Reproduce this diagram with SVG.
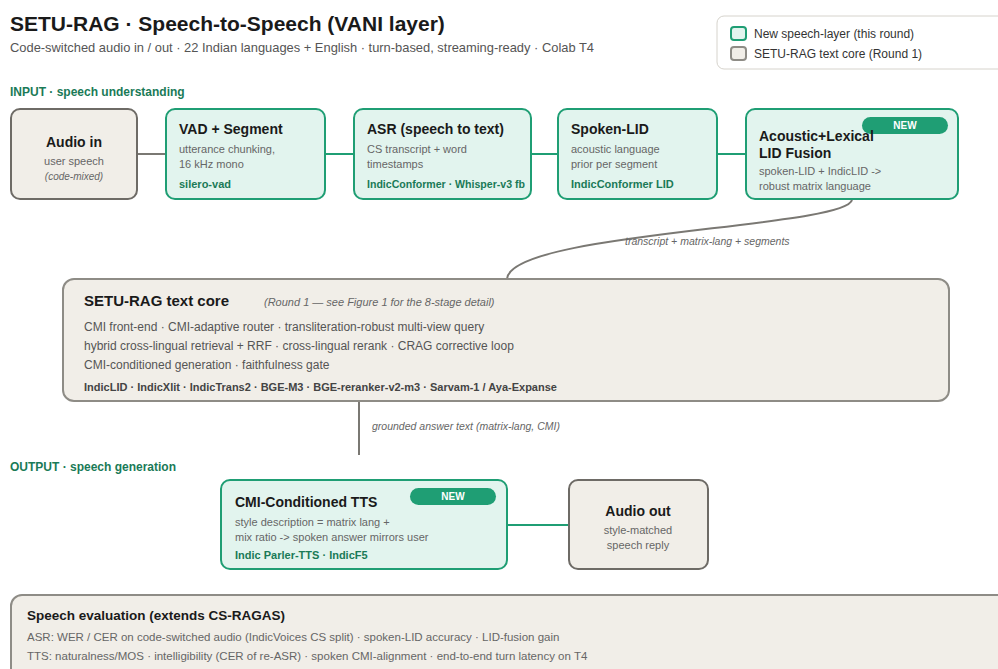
<svg xmlns="http://www.w3.org/2000/svg" width="998" height="669" viewBox="0 0 998 669">
<defs>
<style>
text{font-family:"Liberation Sans",Arial,sans-serif;}
.title{font-size:21px;font-weight:bold;fill:#1a1a1a;}
.sub{font-size:13px;fill:#555;}
.sec{font-size:12px;font-weight:bold;fill:#1a7a57;}
.new{fill:#e2f4ee;stroke:#1f9e74;stroke-width:2;}
.core{fill:#f1eee8;stroke:#6e6b66;stroke-width:2;}
.core2{fill:#f1eee8;stroke:#8e8c86;stroke-width:2;}
.nt{font-size:14px;font-weight:bold;fill:#1a1a1a;}
.d{font-size:11px;fill:#666;}
.m{font-size:11px;font-weight:bold;fill:#1a7a57;}
.pill{fill:#1f9e74;}
.pt{font-size:10px;font-weight:bold;fill:#fff;}
.lbl{font-size:10.5px;font-style:italic;fill:#666;}
.cd{font-size:12px;fill:#555;}
.cm{font-size:11px;font-weight:bold;fill:#444;}
.ed{font-size:11.5px;fill:#666;}
.eg{stroke:#1f9e74;stroke-width:2;fill:none;}
.eq{stroke:#7a7873;stroke-width:2;fill:none;}
</style>
</defs>
<rect width="998" height="669" fill="#fff"/>
<text class="title" x="10" y="31">SETU-RAG · Speech-to-Speech (VANI layer)</text>
<text class="sub" x="10" y="52" textLength="584" lengthAdjust="spacingAndGlyphs">Code-switched audio in / out · 22 Indian languages + English · turn-based, streaming-ready · Colab T4</text>

<g id="legend">
<rect x="717" y="16" width="300" height="53" rx="7" fill="#fff" stroke="#d6d3cc" stroke-width="1"/>
<rect x="731" y="27" width="15" height="13" rx="3" class="new"/>
<text x="754" y="38" font-size="12" fill="#333">New speech-layer (this round)</text>
<rect x="731" y="47" width="15" height="13" rx="3" class="core2"/>
<text x="754" y="58" font-size="12" fill="#333">SETU-RAG text core (Round 1)</text>
</g>

<text class="sec" x="10" y="96">INPUT · speech understanding</text>

<g id="connectors">
<line x1="137" y1="154" x2="166" y2="154" class="eq"/>
<line x1="325" y1="154" x2="354" y2="154" class="eg"/>
<line x1="531" y1="154" x2="558" y2="154" class="eg"/>
<line x1="717" y1="154" x2="746" y2="154" class="eg"/>
<path d="M852 200 C845 228, 510 232, 507 279" class="eq"/>
<text class="lbl" x="625" y="245">transcript + matrix-lang + segments</text>
<line x1="359" y1="401" x2="359" y2="455" class="eq"/>
<text class="lbl" x="372" y="430">grounded answer text (matrix-lang, CMI)</text>
<line x1="507" y1="525" x2="569" y2="525" class="eg"/>
</g>

<g id="audio-in">
<rect x="11" y="109" width="126" height="90" rx="9" class="core"/>
<text class="nt" x="74" y="147" text-anchor="middle">Audio in</text>
<text class="d" x="74" y="165" text-anchor="middle">user speech</text>
<text x="74" y="180" text-anchor="middle" font-size="10" font-style="italic" fill="#666">(code-mixed)</text>
</g>

<g id="vad">
<rect x="166" y="109" width="159" height="90" rx="9" class="new"/>
<text class="nt" x="179" y="134">VAD + Segment</text>
<text class="d" x="179" y="153">utterance chunking,</text>
<text class="d" x="179" y="168">16 kHz mono</text>
<text class="m" x="179" y="188">silero-vad</text>
</g>

<g id="asr">
<rect x="354" y="109" width="177" height="90" rx="9" class="new"/>
<text class="nt" x="367" y="134">ASR (speech to text)</text>
<text class="d" x="367" y="153">CS transcript + word</text>
<text class="d" x="367" y="168">timestamps</text>
<text class="m" x="367" y="188" textLength="158" lengthAdjust="spacingAndGlyphs">IndicConformer · Whisper-v3 fb</text>
</g>

<g id="spoken-lid">
<rect x="558" y="109" width="159" height="90" rx="9" class="new"/>
<text class="nt" x="571" y="134">Spoken-LID</text>
<text class="d" x="571" y="153">acoustic language</text>
<text class="d" x="571" y="168">prior per segment</text>
<text class="m" x="571" y="188">IndicConformer LID</text>
</g>

<g id="lid-fusion">
<rect x="746" y="109" width="212" height="90" rx="9" class="new"/>
<rect x="862" y="117" width="86" height="17" rx="8.5" class="pill"/>
<text class="pt" x="905" y="129" text-anchor="middle">NEW</text>
<text class="nt" x="759" y="141">Acoustic+Lexical</text>
<text class="nt" x="759" y="158">LID Fusion</text>
<text class="d" x="759" y="175">spoken-LID + IndicLID -&gt;</text>
<text class="d" x="759" y="190">robust matrix language</text>
</g>

<g id="text-core">
<rect x="63" y="279" width="886" height="122" rx="11" class="core2"/>
<text x="84" y="306" font-size="15" font-weight="bold" fill="#1a1a1a">SETU-RAG text core</text>
<text x="264" y="306" font-size="11" font-style="italic" fill="#666">(Round 1 — see Figure 1 for the 8-stage detail)</text>
<text class="cd" x="84" y="331">CMI front-end · CMI-adaptive router · transliteration-robust multi-view query</text>
<text class="cd" x="84" y="350">hybrid cross-lingual retrieval + RRF · cross-lingual rerank · CRAG corrective loop</text>
<text class="cd" x="84" y="369">CMI-conditioned generation · faithfulness gate</text>
<text class="cm" x="84" y="391">IndicLID · IndicXlit · IndicTrans2 · BGE-M3 · BGE-reranker-v2-m3 · Sarvam-1 / Aya-Expanse</text>
</g>

<text class="sec" x="10" y="471">OUTPUT · speech generation</text>

<g id="tts">
<rect x="221" y="480" width="286" height="89" rx="9" class="new"/>
<rect x="410" y="488" width="86" height="17" rx="8.5" class="pill"/>
<text class="pt" x="453" y="500" text-anchor="middle">NEW</text>
<text class="nt" x="235" y="507">CMI-Conditioned TTS</text>
<text class="d" x="235" y="526">style description = matrix lang +</text>
<text class="d" x="235" y="541">mix ratio -&gt; spoken answer mirrors user</text>
<text class="m" x="235" y="559">Indic Parler-TTS · IndicF5</text>
</g>

<g id="audio-out">
<rect x="569" y="480" width="139" height="89" rx="9" class="core"/>
<text class="nt" x="638" y="516" text-anchor="middle">Audio out</text>
<text class="d" x="638" y="534" text-anchor="middle">style-matched</text>
<text class="d" x="638" y="549" text-anchor="middle">speech reply</text>
</g>

<g id="speech-eval">
<rect x="11" y="595" width="1000" height="90" rx="11" class="core2"/>
<text x="27" y="620" font-size="13.5" font-weight="bold" fill="#1a1a1a">Speech evaluation (extends CS-RAGAS)</text>
<text class="ed" x="27" y="641">ASR: WER / CER on code-switched audio (IndicVoices CS split) · spoken-LID accuracy · LID-fusion gain</text>
<text class="ed" x="27" y="660">TTS: naturalness/MOS · intelligibility (CER of re-ASR) · spoken CMI-alignment · end-to-end turn latency on T4</text>
</g>
</svg>
